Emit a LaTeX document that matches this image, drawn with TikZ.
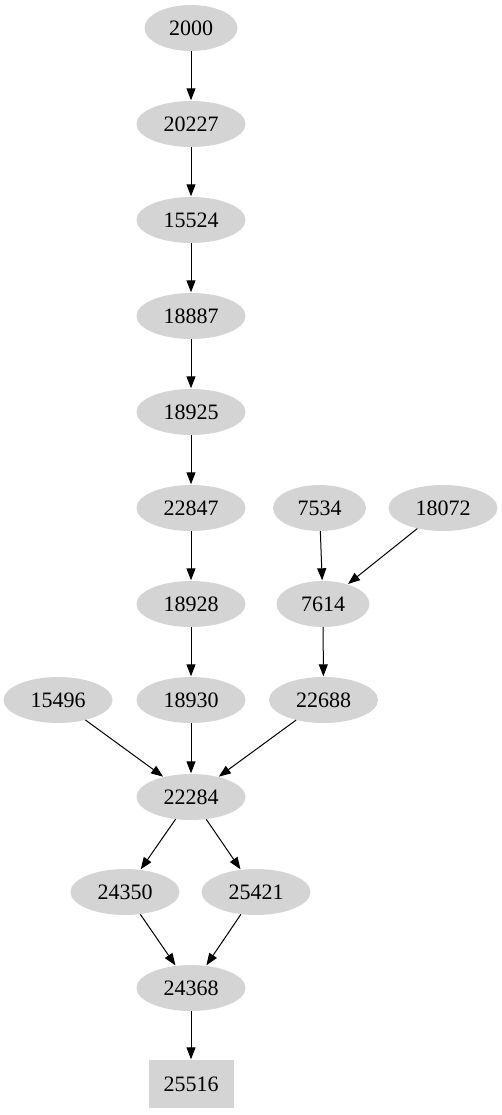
\documentclass[tikz,border=0pt]{standalone}
\usepackage{fontspec}
\setmainfont{Liberation Serif}
\usetikzlibrary{shapes.geometric,arrows.meta}
\begin{document}
\begin{tikzpicture}[x=1pt,y=-1pt,
  every node/.style={font=\fontsize{22}{25}\selectfont, inner sep=0pt},
  nd/.style={ellipse, fill=black!17, minimum height=46pt, minimum width=109pt},
  nd4/.style={nd, minimum width=93pt},
  bx/.style={rectangle, fill=black!17, minimum height=48pt, minimum width=85pt},
  edge/.style={line width=1pt, -{Triangle[length=12pt,width=9pt]}, shorten >=0.5pt}
]
\useasboundingbox (0,0) rectangle (502,1115);
\node[nd4] (n2000) at (191,28) {2000};
\node[nd] (n20227) at (191,124) {20227};
\node[nd] (n15524) at (191,220) {15524};
\node[nd] (n18887) at (191,316) {18887};
\node[nd] (n18925) at (191,412) {18925};
\node[nd] (n22847) at (191,508) {22847};
\node[nd4] (n7534) at (319.5,508) {7534};
\node[nd] (n18072) at (443,508) {18072};
\node[nd] (n18928) at (191,604) {18928};
\node[nd4] (n7614) at (323,604) {7614};
\node[nd] (n15496) at (58,700) {15496};
\node[nd] (n18930) at (191,700) {18930};
\node[nd] (n22688) at (323.5,700) {22688};
\node[nd] (n22284) at (191,797) {22284};
\node[nd] (n24350) at (125,892) {24350};
\node[nd] (n25421) at (256,892) {25421};
\node[nd] (n24368) at (191,988) {24368};
\node[bx] (n25516) at (191,1084) {25516};
\draw[edge] (n2000) -- (n20227);
\draw[edge] (n20227) -- (n15524);
\draw[edge] (n15524) -- (n18887);
\draw[edge] (n18887) -- (n18925);
\draw[edge] (n18925) -- (n22847);
\draw[edge] (n22847) -- (n18928);
\draw[edge] (n18928) -- (n18930);
\draw[edge] (n7534) -- (n7614);
\draw[edge] (n18072) -- (n7614);
\draw[edge] (n7614) -- (n22688);
\draw[edge] (n15496) -- (n22284);
\draw[edge] (n18930) -- (n22284);
\draw[edge] (n22688) -- (n22284);
\draw[edge] (n22284) -- (n24350);
\draw[edge] (n22284) -- (n25421);
\draw[edge] (n24350) -- (n24368);
\draw[edge] (n25421) -- (n24368);
\draw[edge] (n24368) -- (n25516);
\end{tikzpicture}
\end{document}
